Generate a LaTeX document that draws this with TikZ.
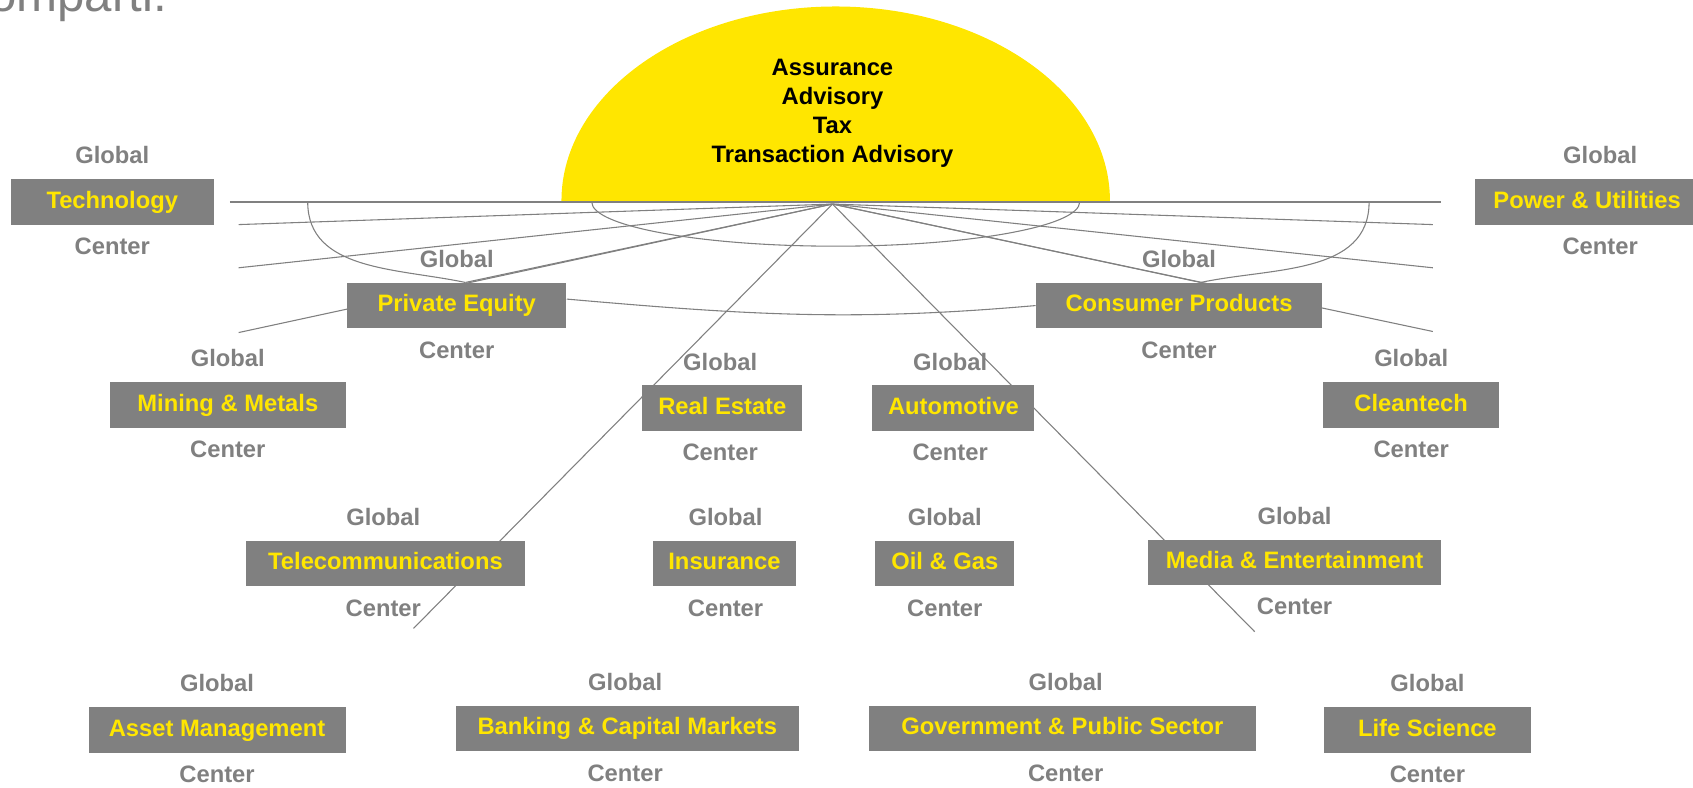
\documentclass[tikz,border=0pt]{standalone}
\usepackage{fontspec}
\setmainfont{Liberation Sans}
\usetikzlibrary{calc}
\usetikzlibrary{positioning}
\usetikzlibrary{backgrounds}

\definecolor{eygray}{HTML}{808080}
\definecolor{eyyellow}{HTML}{FFE600}

\tikzset{
  sector/.style={fill=eygray, text=eyyellow, font=\bfseries\fontsize{11}{13}\selectfont,
    minimum height=21pt, inner sep=0pt, text height=8pt, text depth=2.3pt},
  tag/.style={text=eygray, font=\bfseries\fontsize{11}{13}\selectfont, inner sep=0pt},
  spoke/.style={draw=eygray, line width=0.5pt},
}

\begin{document}
\begin{tikzpicture}[x=0.5pt, y=-0.5pt]
        \useasboundingbox (0,0) rectangle (1568,729);
        \node[anchor=base east, text=eygray, font=\fontsize{22.8}{26}\selectfont, inner sep=0pt] (title) at (155,11) {omparti.};
        \node[align=center, font=\bfseries\fontsize{11}{13.5}\selectfont] (lines) at (771,105) {Assurance\\Advisory\\Tax\\Transaction Advisory};
        % industry boxes
        \foreach \n/\x/\y/\w/\lx/\t in {
            tech/104/187/94/104/Technology,
            pu/1470/187/104/1482/Power \& Utilities,
            pe/423/283/101.5/423/Private Equity,
            cp/1092/283/132.5/1092/Consumer Products,
            mm/211/375/109/211/Mining \& Metals,
            ct/1307/375/81.5/1307/Cleantech,
            re/669/378/74/667/Real Estate,
            auto/883/378/75/880/Automotive,
            tel/357/522/129.5/355/Telecommunications,
            ins/671/522/66.5/672/Insurance,
            og/875/522/64.5/875/Oil \& Gas,
            me/1199/521/136/1199/Media \& Entertainment,
            am/201/676/119/201/Asset Management,
            bcm/581/675/159/579/Banking \& Capital Markets,
            gps/984/675/179/987/Government \& Public Sector,
            ls/1322/676/95.5/1322/Life Science}
          {
          \node[sector, minimum width=\w pt] (\n) at (\x,\y) {\t};
          \node[tag] (\n-g) at (\lx,\y-43) {Global};
          \node[tag] (\n-c) at (\lx,\y+41) {Center};
          }
        \coordinate (hub) at (771,189);
        \coordinate (hl) at (213,187);
        \coordinate (hr) at (1335,187);
        \coordinate (ia) at (548,187);
        \coordinate (la) at (285,187);
        \coordinate (ra) at (1268,187);
        \coordinate (l1) at (221,208);
        \coordinate (l2) at (221,248);
        \coordinate (l3) at (221,308);
        \coordinate (r1) at (1327,208);
        \coordinate (r2) at (1327,248);
        \coordinate (r3) at (1327,307);
        \coordinate (ld) at (383,582);
        \coordinate (rd) at (1162,585);
        \begin{scope}[on background layer]
          \fill[eyyellow] (520,186) arc[start angle=180, end angle=0, x radius=127pt, y radius=90pt];
          \draw[eygray, line width=1pt] (hl) -- (hr);
          \draw[spoke] (ia) arc[start angle=180, end angle=360, x radius=113pt, y radius=20.5pt];
          \foreach \e in {l1, l2, l3, r1, r2, r3, ld, rd}
            \draw[spoke] (hub) -- (\e);
          \draw[spoke] (hub) -- ([xshift=4pt]pe.north);
          \draw[spoke] (hub) -- ([xshift=10pt]cp.north);
          \draw[spoke] (la) to[out=270, in=168] ([xshift=4pt]pe.north);
          \draw[spoke] (ra) to[out=270, in=12] ([xshift=10pt]cp.north);
          \draw[spoke] ([yshift=3pt]pe.east) to[out=-5, in=185] (cp.west);
        \end{scope}
      \end{tikzpicture}
\end{document}
